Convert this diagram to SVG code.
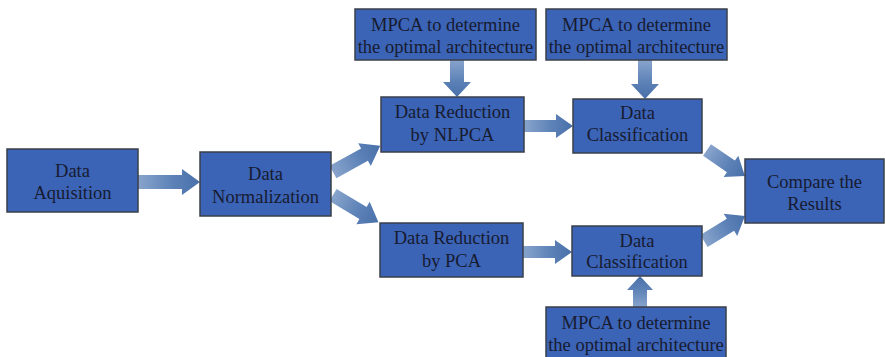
<svg xmlns="http://www.w3.org/2000/svg" width="885" height="357" viewBox="0 0 885 357">
<defs>
<linearGradient id="ag" x1="0" y1="0" x2="1" y2="0">
<stop offset="0" stop-color="#88a4cc"/>
<stop offset="0.6" stop-color="#5a80b6"/>
<stop offset="1" stop-color="#4a70aa"/>
</linearGradient>
</defs>
<style>
.box{fill:#3b63b6;stroke:#3a3f4a;stroke-width:1.5}
.t{font-family:"Liberation Serif","Times New Roman",serif;font-size:18.5px;fill:#171b30;text-anchor:middle}
.a{fill:url(#ag)}
</style>
<rect width="885" height="357" fill="#ffffff"/>
<g id="connectors">
<path class="a" transform="translate(138,182)" d="M0,-7 L44,-7 L44,-13 L62,0 L44,13 L44,7 L0,7 Z"/>
<path class="a" transform="translate(333,172) rotate(-28.95)" d="M0,-7 L36,-7 L36,-13 L54,0 L36,13 L36,7 L0,7 Z"/>
<path class="a" transform="translate(333,195) rotate(30.96)" d="M0,-7 L35,-7 L35,-13 L53,0 L35,13 L35,7 L0,7 Z"/>
<path class="a" transform="translate(457,60) rotate(90)" d="M0,-7 L22,-7 L22,-14 L37,0 L22,14 L22,7 L0,7 Z"/>
<path class="a" transform="translate(645,60) rotate(90)" d="M0,-7 L24,-7 L24,-14 L39,0 L24,14 L24,7 L0,7 Z"/>
<path class="a" transform="translate(524,126)" d="M0,-6 L32,-6 L32,-12 L49,0 L32,12 L32,6 L0,6 Z"/>
<path class="a" transform="translate(523,252)" d="M0,-6 L32,-6 L32,-12 L49,0 L32,12 L32,6 L0,6 Z"/>
<path class="a" transform="translate(640,307) rotate(-90)" d="M0,-7 L17,-7 L17,-13 L31,0 L17,13 L17,7 L0,7 Z"/>
<path class="a" transform="translate(707,150) rotate(34.4)" d="M0,-7 L29,-7 L29,-13 L46,0 L29,13 L29,7 L0,7 Z"/>
<path class="a" transform="translate(704,241) rotate(-31.4)" d="M0,-7 L31,-7 L31,-13 L48,0 L31,13 L31,7 L0,7 Z"/>
</g>
<g id="acq">
<rect class="box" x="7" y="149" width="131" height="63"/>
<text class="t" x="72.5" y="177">Data</text>
<text class="t" x="72.5" y="199">Aquisition</text>
</g>
<g id="norm">
<rect class="box" x="200" y="152" width="131" height="64"/>
<text class="t" x="265.5" y="180">Data</text>
<text class="t" x="265.5" y="203">Normalization</text>
</g>
<g id="mpca1">
<rect class="box" x="355" y="9" width="181" height="51"/>
<text class="t" x="445.5" y="31">MPCA to determine</text>
<text class="t" x="445.5" y="53">the optimal architecture</text>
</g>
<g id="mpca2">
<rect class="box" x="546" y="9" width="181" height="51"/>
<text class="t" x="636.5" y="31">MPCA to determine</text>
<text class="t" x="636.5" y="53">the optimal architecture</text>
</g>
<g id="nlpca">
<rect class="box" x="381" y="97" width="143" height="55"/>
<text class="t" x="452.5" y="118">Data Reduction</text>
<text class="t" x="452.5" y="141">by NLPCA</text>
</g>
<g id="class1">
<rect class="box" x="573" y="99" width="129" height="54"/>
<text class="t" x="637.5" y="119">Data</text>
<text class="t" x="637.5" y="141">Classification</text>
</g>
<g id="pca">
<rect class="box" x="380" y="223" width="143" height="54"/>
<text class="t" x="451.5" y="244">Data Reduction</text>
<text class="t" x="451.5" y="267">by PCA</text>
</g>
<g id="class2">
<rect class="box" x="572" y="226" width="130" height="50"/>
<text class="t" x="637" y="247">Data</text>
<text class="t" x="637" y="268">Classification</text>
</g>
<g id="mpca3">
<rect class="box" x="546" y="307" width="180" height="52"/>
<text class="t" x="636" y="329">MPCA to determine</text>
<text class="t" x="636" y="351">the optimal architecture</text>
</g>
<g id="compare">
<rect class="box" x="745" y="159" width="139" height="64"/>
<text class="t" x="814.5" y="188">Compare the</text>
<text class="t" x="814.5" y="210">Results</text>
</g>
</svg>
